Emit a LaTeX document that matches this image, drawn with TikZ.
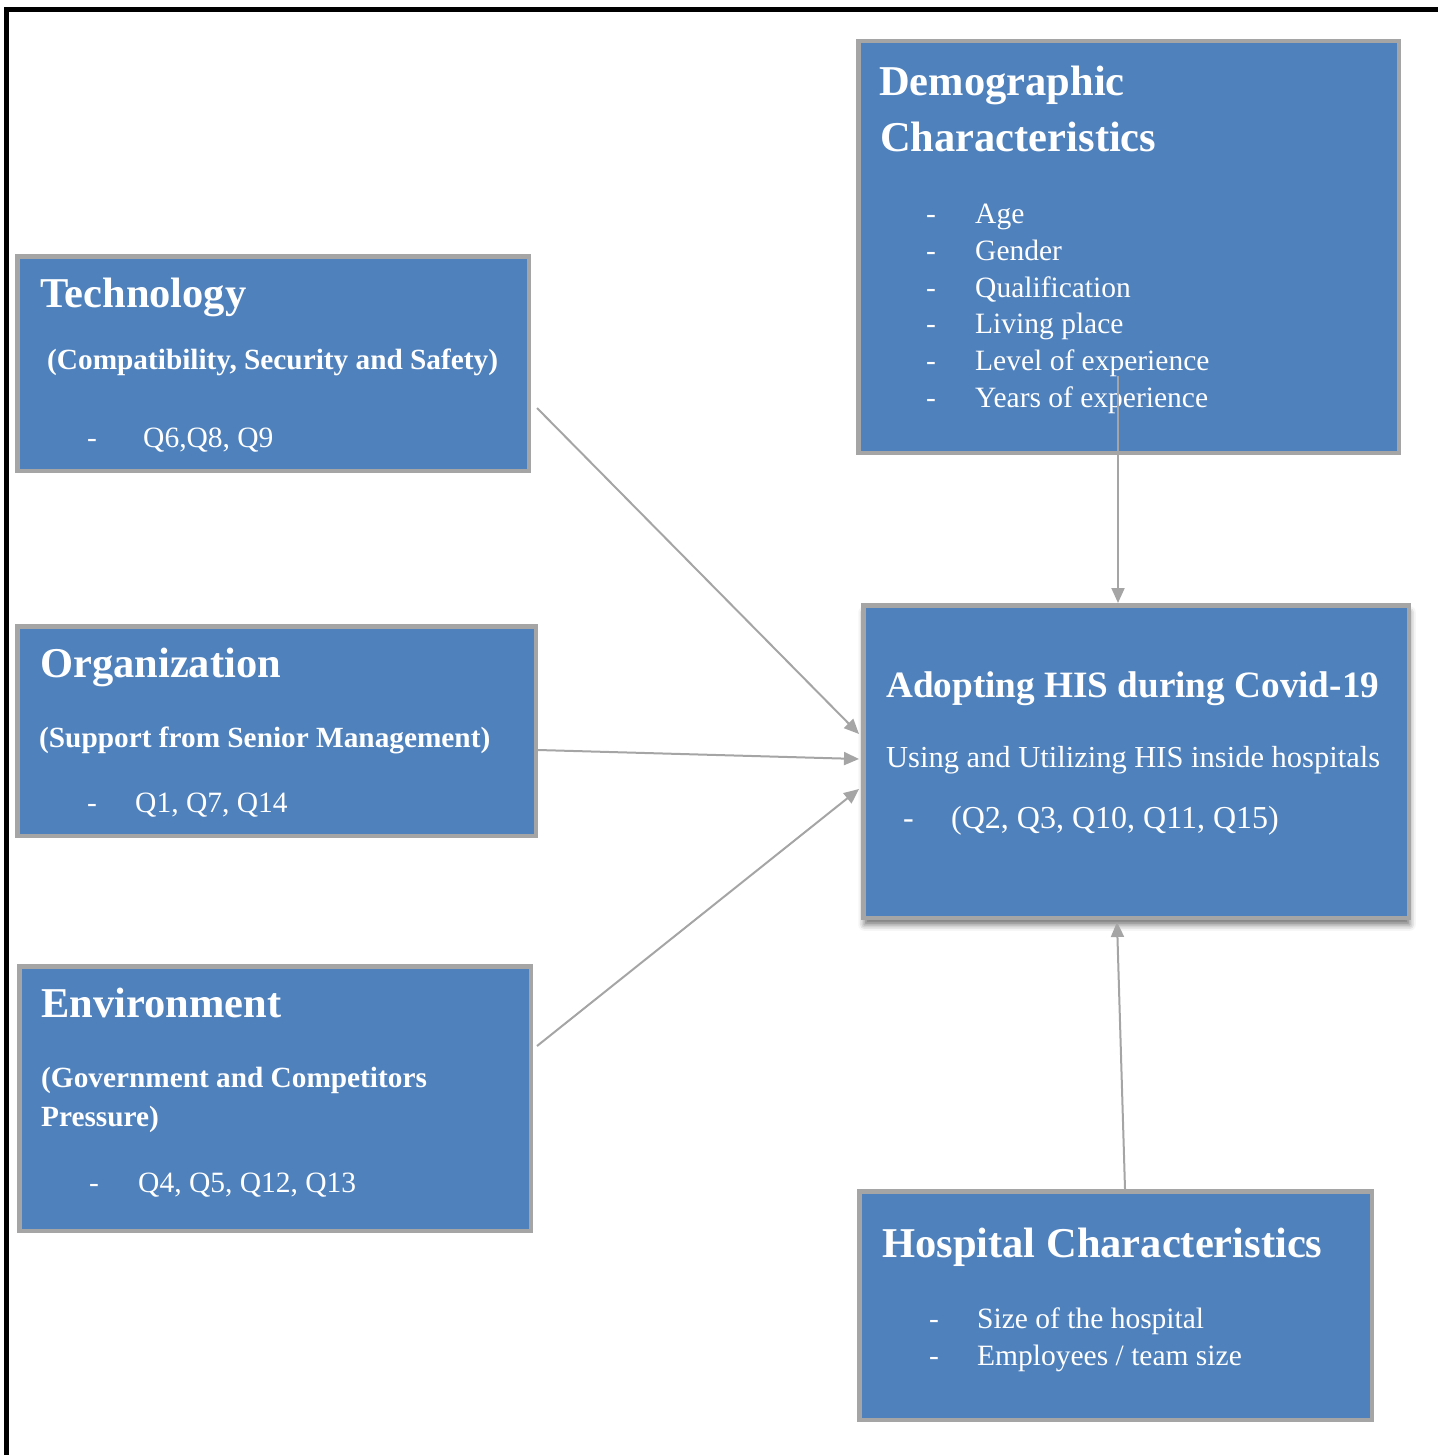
\documentclass[tikz,border=0pt]{standalone}
\usepackage{fontspec}
\setmainfont{Liberation Serif}
\usetikzlibrary{arrows.meta,calc,shadows.blur}

\definecolor{boxblue}{HTML}{4F81BD}
\definecolor{boxgray}{HTML}{A5A5A5}

\newcommand\hdfont{\fontsize{42.5}{50}\selectfont\bfseries}
\newcommand\mhdfont{\fontsize{37.2}{44}\selectfont\bfseries}
\newcommand\sbfont{\fontsize{29.3}{36}\selectfont\bfseries}
\newcommand\bdfont{\fontsize{29.5}{36}\selectfont}
\newcommand\midbdfont{\fontsize{30.5}{38}\selectfont}
\newcommand\bigbdfont{\fontsize{32}{38}\selectfont}

\tikzset{
  box/.style={rectangle, draw=boxgray, fill=boxblue, line width=4.5pt, inner sep=0pt},
  txt/.style={anchor=base west, inner sep=0pt, text=white},
  link/.style={draw=boxgray, line width=2pt, -{Triangle[length=15pt,width=13pt]}}
}

\begin{document}
\begin{tikzpicture}[x=1pt,y=-1pt]
\useasboundingbox (0,0) rectangle (1438,1455);

% page frame (top and left edges)
\draw[line width=5pt] (6.5,1455) -- (6.5,9.5) -- (1438,9.5);

% boxes
\node[box, minimum width=540.5pt, minimum height=411.5pt] (demo) at (1128.5,247) {};
\node[box, minimum width=511.5pt, minimum height=214.5pt] (tech) at (273,363.5) {};
\node[box, minimum width=518.5pt, minimum height=209.5pt] (org) at (276.5,731) {};
\node[box, minimum width=511.5pt, minimum height=264.5pt] (env) at (275,1098.5) {};
\node[box, minimum width=545.5pt, minimum height=312.5pt,
      blur shadow={shadow xshift=1pt, shadow yshift=-7pt, shadow blur radius=6pt, shadow opacity=55}]
      (adopt) at (1136,761.5) {};
\node[box, minimum width=512.5pt, minimum height=228.5pt] (hosp) at (1115.5,1305.5) {};

% Demographic characteristics
\node[txt, font=\hdfont] (demoT1) at (879,96) {Demographic};
\node[txt, font=\hdfont] (demoT2) at (880,152) {Characteristics};
\foreach \lbl [count=\i] in {Age, Gender, Qualification, Living place, Level of experience, Years of experience}{
  \node[txt, font=\bdfont] (demoD\i) at (926,{223.5+36.8*(\i-1)}) {-};
  \node[txt, font=\bdfont] (demoL\i) at (975,{223.5+36.8*(\i-1)}) {\lbl};
}

% Technology
\node[txt, font=\hdfont] (techT) at (40,307) {Technology};
\node[txt, font=\sbfont] (techS) at (47,369) {(Compatibility, Security and Safety)};
\node[txt, font=\bdfont] (techD) at (87,447) {-};
\node[txt, font=\bdfont] (techQ) at (143,447) {Q6,Q8, Q9};

% Organization
\node[txt, font=\hdfont] (orgT) at (40,677) {Organization};
\node[txt, font=\sbfont] (orgS) at (39,747) {(Support from Senior Management)};
\node[txt, font=\bdfont] (orgD) at (87,812) {-};
\node[txt, font=\bdfont] (orgQ) at (135,812) {Q1, Q7, Q14};

% Environment
\node[txt, font=\hdfont] (envT) at (41,1017) {Environment};
\node[txt, font=\sbfont] (envS1) at (41,1087) {(Government and Competitors};
\node[txt, font=\sbfont] (envS2) at (41,1126) {Pressure)};
\node[txt, font=\bdfont] (envD) at (89,1192) {-};
\node[txt, font=\bdfont] (envQ) at (138,1192) {Q4, Q5, Q12, Q13};

% Adopting HIS
\node[txt, font=\mhdfont] (adoptT) at (886,697) {Adopting HIS during Covid-19};
\node[txt, font=\midbdfont] (adoptS) at (886,767) {Using and Utilizing HIS inside hospitals};
\node[txt, font=\bigbdfont] (adoptD) at (903,828) {-};
\node[txt, font=\bigbdfont] (adoptQ) at (951,828) {(Q2, Q3, Q10, Q11, Q15)};

% Hospital characteristics
\node[txt, font=\hdfont] (hospT) at (882,1257) {Hospital Characteristics};
\node[txt, font=\bdfont] (hospD1) at (929,1328) {-};
\node[txt, font=\bdfont] (hospL1) at (977,1328) {Size of the hospital};
\node[txt, font=\bdfont] (hospD2) at (929,1365) {-};
\node[txt, font=\bdfont] (hospL2) at (977,1365) {Employees / team size};

% connectors
\coordinate (demoStart) at ($(demo.south)+(-10.5,-79)$);
\draw[link] ($(tech.east)+(6,44.5)$) -- ($(adopt.west)+(-2,-27.5)$);
\draw[link] ($(org.east)+(0,19)$) -- ($(adopt.west)+(-2,-2.5)$);
\draw[link] ($(env.east)+(4,-52.5)$) -- ($(adopt.west)+(-2,27.5)$);
\draw[link] (demoStart) -- ($(adopt.north)+(-18,0)$);
\draw[link] ($(hosp.north)+(9.5,0)$) -- ($(adopt.south)+(-19,2)$);
\end{tikzpicture}
\end{document}
